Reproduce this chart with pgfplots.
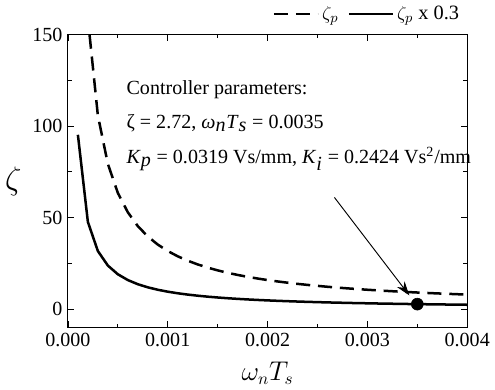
\documentclass[border=0pt]{standalone}
\usepackage{pgfplots}
\pgfplotsset{compat=1.18}
\usetikzlibrary{arrows.meta}
\usepackage{fontspec}
\setmainfont{Liberation Serif}
\begin{document}
\begin{tikzpicture}
\begin{axis}[
  scale only axis,
  clip mode=individual,
  width=255pt, height=187pt,
  xmin=0, xmax=0.004, ymin=-10, ymax=150,
  xtick={0,0.001,0.002,0.003,0.004},
  minor x tick num=1,
  ytick={0,50,100,150},
  minor y tick num=1,
  scaled x ticks=false,
  tick align=inside,
  axis line style={line width=0.6pt},
  major tick length=4pt, minor tick length=2.5pt,
  every tick/.style={line width=0.5pt, black},
  xticklabel style={/pgf/number format/.cd, fixed, fixed zerofill, precision=3, assume math mode=true},
  yticklabel style={/pgf/number format/assume math mode=true},
  tick label style={font=\fontsize{12.8}{14}\selectfont},
  xlabel={$\omega_n T_s$},
  xlabel style={font=\fontsize{16}{18}\selectfont, yshift=-3pt},
  ylabel={$\zeta$},
  ylabel style={font=\fontsize{20}{22}\selectfont, rotate=-90, xshift=0pt},
  legend style={at={(1,1.02)}, anchor=south east, draw=none, fill=none,
    font=\fontsize{13}{14}\selectfont, /tikz/every even column/.append style={column sep=4pt}},
  legend columns=2,
  legend image code/.code={\draw[#1] (0pt,0pt) -- (28pt,0pt);},
]
\addplot[black, line width=1.6pt, dash pattern=on 9pt off 5pt] coordinates {
(0.0001,317.5)(0.0002,158.75)(0.0003,105.83)(0.0004,79.38)(0.0005,63.5)
(0.0006,52.92)(0.0007,45.36)(0.0008,39.69)(0.0009,35.28)(0.0010,31.75)
(0.0011,28.86)(0.0012,26.46)(0.0013,24.42)(0.0014,22.68)(0.0015,21.17)
(0.0016,19.84)(0.0017,18.68)(0.0018,17.64)(0.0019,16.71)(0.0020,15.88)
(0.0021,15.12)(0.0022,14.43)(0.0023,13.80)(0.0024,13.23)(0.0025,12.70)
(0.0026,12.21)(0.0027,11.76)(0.0028,11.34)(0.0029,10.95)(0.0030,10.58)
(0.0031,10.24)(0.0032,9.92)(0.0033,9.62)(0.0034,9.34)(0.0035,9.07)
(0.0036,8.82)(0.0037,8.58)(0.0038,8.36)(0.0039,8.14)(0.0040,7.94)};
\addlegendentry{$\zeta_p$}
\addplot[black, line width=1.6pt] coordinates {
(0.0001,95.25)(0.0002,47.63)(0.0003,31.75)(0.0004,23.81)(0.0005,19.05)
(0.0006,15.88)(0.0007,13.61)(0.0008,11.91)(0.0009,10.58)(0.0010,9.53)
(0.0011,8.66)(0.0012,7.94)(0.0013,7.33)(0.0014,6.80)(0.0015,6.35)
(0.0016,5.95)(0.0017,5.60)(0.0018,5.29)(0.0019,5.01)(0.0020,4.76)
(0.0021,4.54)(0.0022,4.33)(0.0023,4.14)(0.0024,3.97)(0.0025,3.81)
(0.0026,3.66)(0.0027,3.53)(0.0028,3.40)(0.0029,3.28)(0.0030,3.18)
(0.0031,3.07)(0.0032,2.98)(0.0033,2.89)(0.0034,2.80)(0.0035,2.72)
(0.0036,2.65)(0.0037,2.57)(0.0038,2.51)(0.0039,2.44)(0.0040,2.38)};
\addlegendentry{$\zeta_p$ x 0.3}
\addplot[only marks, mark=*, mark size=3.8pt, black, forget plot] coordinates {(0.0035,2.72)};
\node[anchor=west, font=\fontsize{12.8}{15}\selectfont, inner sep=0pt] at (axis cs:0.000585,120) {Controller parameters:};
\node[anchor=west, font=\fontsize{12.8}{15}\selectfont, inner sep=0pt] at (axis cs:0.000585,101.5) {ζ = 2.72, \textit{ω}$_{\textit{n}}$\textit{T}$_{\textit{s}}$ = 0.0035};
\node[anchor=west, font=\fontsize{12.8}{15}\selectfont, inner sep=0pt] at (axis cs:0.000585,82) {\textit{K}$_{\textit{p}}$ = 0.0319 Vs/mm, \textit{K}$_{\textit{i}}$ = 0.2424 Vs\textsuperscript{2}/mm};
\draw[-{Stealth[length=9pt,width=6pt]}, line width=0.6pt] (axis cs:0.00267,61) -- (axis cs:0.00342,7.5);
\end{axis}
\end{tikzpicture}
\end{document}
